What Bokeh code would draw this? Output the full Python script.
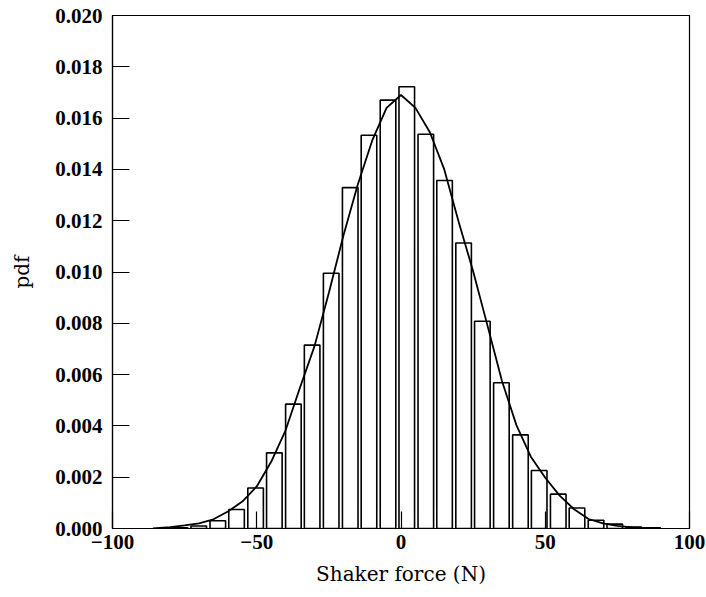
from bokeh.plotting import figure
from bokeh.models import FixedTicker, PrintfTickFormatter, Range1d, ColumnDataSource
from bokeh.embed import file_html
from bokeh.resources import INLINE

# Histogram bins (centres, N) and pdf heights
bin_centers = [-76.6, -70.1, -63.5, -57.0, -50.4, -43.9, -37.3, -30.8, -24.2, -17.6,
               -11.1, -4.5, 2.0, 8.6, 15.1, 21.7, 28.2, 34.8, 41.4, 47.9,
               54.5, 61.0, 67.6, 74.1, 80.7, 87.2]
pdf_values = [0.00003, 0.00010, 0.00030, 0.00074, 0.00158, 0.00295, 0.00485, 0.00715, 0.00995, 0.01329,
              0.01533, 0.01670, 0.01722, 0.01537, 0.01357, 0.01113, 0.00808, 0.00568, 0.00365, 0.00226,
              0.00134, 0.00080, 0.00032, 0.00017, 0.00006, 0.00003]
bin_width = 5.4

# Fitted pdf curve
curve_x = [-86, -80, -75, -70, -65, -60, -55, -50, -45, -40, -35, -30, -25, -20, -15, -10, -5, 0,
           5, 10, 15, 20, 25, 30, 35, 40, 45, 50, 55, 60, 65, 70, 75, 80, 85, 90]
curve_y = [0.0, 0.00005, 0.00012, 0.00020, 0.00036, 0.00066, 0.00105, 0.00164, 0.00260, 0.00383,
           0.00550, 0.00710, 0.00919, 0.01140, 0.01340, 0.01512, 0.01640, 0.01690,
           0.01640, 0.01545, 0.01400, 0.01195, 0.01003, 0.00790, 0.00575, 0.00403, 0.00280,
           0.00198, 0.00128, 0.00075, 0.00037, 0.00020, 0.00010, 0.00004, 0.00001, 0.0]

x_ticks = [-100, -50, 0, 50, 100]
x_tick_labels = {-100: "\u2212100", -50: "\u221250", 0: "0", 50: "50", 100: "100"}
y_ticks = [0.000, 0.002, 0.004, 0.006, 0.008, 0.010, 0.012, 0.014, 0.016, 0.018, 0.020]

p = figure(width=706, height=597, output_backend="svg", toolbar_location=None,
           x_range=Range1d(-100, 100), y_range=Range1d(0, 0.020))
p.min_border_left = 112
p.min_border_right = 17
p.min_border_top = 15
p.min_border_bottom = 69
p.background_fill_color = "white"
p.border_fill_color = "white"
p.outline_line_color = "black"
p.outline_line_width = 1.2
p.xgrid.visible = False
p.ygrid.visible = False

src = ColumnDataSource(dict(x=bin_centers, top=pdf_values))
p.vbar(x="x", top="top", bottom=0, width=bin_width, source=src,
       fill_color="white", line_color="black", line_width=1.6)
p.line(curve_x, curve_y, line_color="black", line_width=1.8)

serif = "Liberation Serif"
title_font = "DejaVu Serif"

p.xaxis.ticker = FixedTicker(ticks=x_ticks)
p.xaxis.major_label_overrides = x_tick_labels
p.yaxis.ticker = FixedTicker(ticks=y_ticks)
p.yaxis.formatter = PrintfTickFormatter(format="%.3f")

for ax in (p.xaxis[0], p.yaxis[0]):
    ax.minor_tick_line_color = None
    ax.major_tick_in = 17
    ax.major_tick_out = 0
    ax.major_tick_line_color = "black"
    ax.major_tick_line_width = 1.2
    ax.axis_line_color = "black"
    ax.axis_line_width = 1.2
    ax.major_label_text_font = serif
    ax.major_label_text_font_style = "bold"
    ax.major_label_text_font_size = "21px"
    ax.major_label_text_color = "black"
    ax.axis_label_text_font = title_font
    ax.axis_label_text_font_style = "normal"
    ax.axis_label_text_font_size = "20px"
    ax.axis_label_text_color = "black"

p.xaxis.axis_label = "Shaker force (N)"
p.yaxis.axis_label = "pdf"
p.xaxis.major_label_standoff = 6
p.yaxis.major_label_standoff = 10
p.xaxis.axis_label_standoff = 10
p.yaxis.axis_label_standoff = 18

open("out.html", "w").write(file_html(p, INLINE))
